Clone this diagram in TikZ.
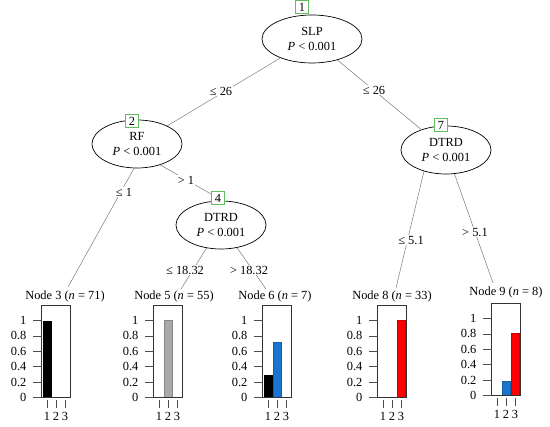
\documentclass[tikz,border=0pt]{standalone}
\usepackage{fontspec}
\setmainfont{Liberation Serif}
\usetikzlibrary{shapes.geometric}
\definecolor{idgreen}{HTML}{5CBF5C}
\definecolor{bargrey}{HTML}{A9A9A9}
\definecolor{barblue}{HTML}{1874CD}
\definecolor{barred}{HTML}{FF0000}
\definecolor{edgegrey}{HTML}{7A7A7A}
\tikzset{
  base/.style={font=\fontsize{12.4}{14.5}\selectfont},
  inner/.style={base, ellipse, draw=black, line width=0.7pt, fill=white, minimum width=90pt, minimum height=48pt, inner sep=0pt, align=center},
  idbox/.style={base, draw=idgreen, line width=0.8pt, fill=white, minimum width=13pt, minimum height=13pt, inner sep=0pt},
  edge/.style={draw=edgegrey, line width=0.5pt},
  elab/.style={base, fill=white, inner sep=1pt},
  title/.style={base, inner sep=0pt},
  ticklab/.style={base, inner sep=0pt},
  tickline/.style={draw=black!70, line width=0.5pt},
  panelbox/.style={draw=black!80, line width=0.6pt},
}
% #1 name prefix, #2 centre x, #3 baseline y (value 0)
\newcommand{\termaxes}[3]{%
  \draw[panelbox] (#2-14.5,#3) rectangle (#2+14.5,#3-92.4);
  \foreach \v/\lab [count=\i] in {0/0,0.2/0.2,0.4/0.4,0.6/0.6,0.8/0.8,1/1}{
    \draw[tickline] (#2-14.5,#3-77*\v) -- (#2-23.5,#3-77*\v);
    \node[ticklab, anchor=east] (#1y\i) at (#2-29.5,#3-77*\v) {\lab};
  }
  \foreach \k/\c in {-9/1,0/2,9/3}{
    \draw[tickline] (#2+\k,#3+3) -- (#2+\k,#3+11);
    \node[ticklab] (#1x\c) at (#2+\k,#3+19) {\c};
  }
}
% #1 x centre, #2 baseline y, #3 height, #4 colour
\newcommand{\tbar}[4]{%
  \filldraw[fill=#4, draw=#4!80!black, line width=0.4pt] (#1-4,#2) rectangle (#1+4,#2-77*#3);
}
\begin{document}
\begin{tikzpicture}[x=1pt,y=-1pt]
\useasboundingbox (0,0) rectangle (550,427);

% inner nodes
\node[inner, minimum width=100pt] (n1) at (312,39) {SLP\\\textit{P} < 0.001};
\node[inner] (n2) at (137,144) {RF\\\textit{P} < 0.001};
\node[inner] (n4) at (221,225) {DTRD\\\textit{P} < 0.001};
\node[inner] (n7) at (446,150) {DTRD\\\textit{P} < 0.001};

\node[idbox] (b1) at (302,7) {1};
\node[idbox] (b2) at (132,121) {2};
\node[idbox] (b4) at (218,198) {4};
\node[idbox] (b7) at (441,125) {7};

% terminal connection points
\coordinate (e3) at (68,287);
\coordinate (e5) at (181,289);
\coordinate (e6) at (266,289);
\coordinate (e8) at (396,288);
\coordinate (e9) at (493,283);

% edges
\draw[edge] (n1) -- (n2);
\draw[edge] (n1) -- (n7);
\draw[edge] (n2.263) -- (e3);
\draw[edge] (n2.318) -- (b4);
\draw[edge] (n4) -- (e5);
\draw[edge] (n4) -- (e6);
\draw[edge] (n7.224) -- (e8);
\draw[edge] (n7) -- (e9);

% edge labels
\node[elab] (l12) at (221,91) {≤ 26};
\node[elab] (l17) at (374,90) {≤ 26};
\node[elab] (l23) at (124,192) {≤ 1};
\node[elab] (l24) at (186,180) {> 1};
\node[elab] (l45) at (185,270) {≤ 18.32};
\node[elab] (l46) at (249,270) {> 18.32};
\node[elab] (l78) at (411,240) {≤ 5.1};
\node[elab] (l79) at (475,232) {> 5.1};

% terminal titles
\node[title] (t3) at (65,297) {Node 3 (\textit{n} = 71)};
\node[title] (t5) at (174,297) {Node 5 (\textit{n} = 55)};
\node[title] (t6) at (275,297) {Node 6 (\textit{n} = 7)};
\node[title] (t8) at (392,297) {Node 8 (\textit{n} = 33)};
\node[title] (t9) at (506,293) {Node 9 (\textit{n} = 8)};

% bars
\tbar{47}{397.5}{0.986}{black}
\tbar{168}{397.5}{1}{bargrey}
\tbar{268}{397.5}{0.286}{black}
\tbar{277}{397.5}{0.714}{barblue}
\tbar{401}{397.5}{1}{barred}
\tbar{506}{395.5}{0.18}{barblue}
\tbar{515}{395.5}{0.81}{barred}

% axes
\termaxes{p3}{56}{397.5}
\termaxes{p5}{168}{397.5}
\termaxes{p6}{277}{397.5}
\termaxes{p8}{392}{397.5}
\termaxes{p9}{506}{395.5}
\end{tikzpicture}
\end{document}
